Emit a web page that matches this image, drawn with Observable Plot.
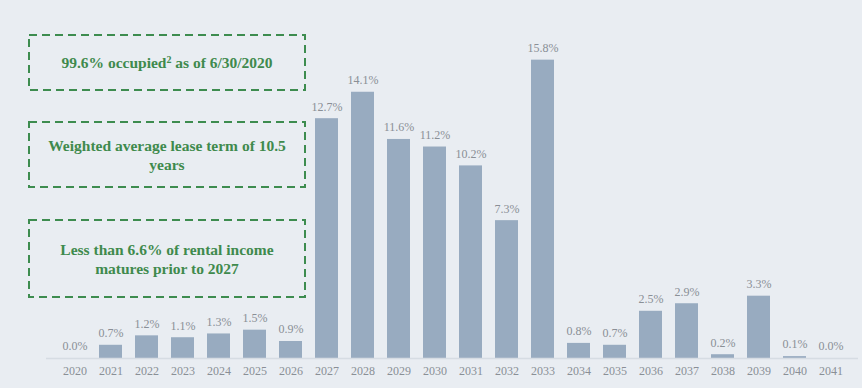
<!DOCTYPE html>
<html>
<head>
<meta charset="utf-8">
<script src="https://cdn.jsdelivr.net/npm/d3@7"></script>
<script src="https://cdn.jsdelivr.net/npm/@observablehq/plot@0.6"></script>
<style>
  html, body { margin: 0; padding: 0; background: #e9edf2; }
  #wrap { position: relative; width: 862px; height: 388px; overflow: hidden; background: #e9edf2; }
  #wrap svg text { font-family: "Liberation Serif", "DejaVu Serif", "Noto Serif", serif !important; }
  .box { position: absolute; left: 29px; width: 276px; display: flex; align-items: center; justify-content: center;
         text-align: center; font-family: "Liberation Serif", "DejaVu Serif", "Noto Serif", serif; font-weight: bold;
         font-size: 15.5px; line-height: 19px; color: #3f8a4d; box-sizing: border-box; padding: 0 12px; }
  .box svg { position: absolute; left: 0; top: 0; overflow: visible; }
  .box span { position: relative; }
  sup { font-size: 10px; vertical-align: 5px; line-height: 0; }
</style>
</head>
<body>
<div id="wrap"></div>
<script>
const years = ["2020","2021","2022","2023","2024","2025","2026","2027","2028","2029","2030","2031","2032","2033","2034","2035","2036","2037","2038","2039","2040","2041"];
const shares = [0.0, 0.7, 1.2, 1.1, 1.3, 1.5, 0.9, 12.7, 14.1, 11.6, 11.2, 10.2, 7.3, 15.8, 0.8, 0.7, 2.5, 2.9, 0.2, 3.3, 0.1, 0.0];
const notes = [
  "99.6% occupied<sup>2</sup> as of 6/30/2020",
  "Weighted average lease term of 10.5 years",
  "Less than 6.6% of rental income matures prior to 2027"
];

const data = years.map((y, i) => ({year: y, value: shares[i]}));

const chart = Plot.plot({
  width: 862,
  height: 388,
  marginLeft: 46,
  marginRight: 4,
  marginTop: 20,
  marginBottom: 30,
  style: {background: "#e9edf2", fontFamily: "Liberation Serif, DejaVu Serif, serif", fontSize: "12px", color: "#8a8f96"},
  x: {domain: years, paddingInner: 0.375, paddingOuter: 0.2, label: null, tickSize: 0, tickPadding: 8},
  y: {domain: [0, 17.9], axis: null},
  marks: [
    Plot.barY(data, {x: "year", y: "value", fill: "#98abc0"}),
    Plot.ruleY([0], {stroke: "#d6dce3", strokeWidth: 1.5}),
    Plot.text(data, {x: "year", y: "value", text: d => d.value.toFixed(1) + "%", dy: -12, fill: "#8a8f96", fontSize: 12})
  ]
});
const wrap = document.getElementById("wrap");
wrap.appendChild(chart);

const boxes = [{top: 35, h: 55}, {top: 122, h: 65}, {top: 220, h: 77}];
boxes.forEach((b, i) => {
  const d = document.createElement("div");
  d.className = "box";
  d.style.top = b.top + "px";
  d.style.height = b.h + "px";
  d.innerHTML = `<svg width="276" height="${b.h}"><rect x="0" y="0" width="276" height="${b.h}" fill="none" stroke="#3d8c4f" stroke-width="2" stroke-dasharray="8 5"/></svg><span>${notes[i]}</span>`;
  wrap.appendChild(d);
});
</script>
</body>
</html>
